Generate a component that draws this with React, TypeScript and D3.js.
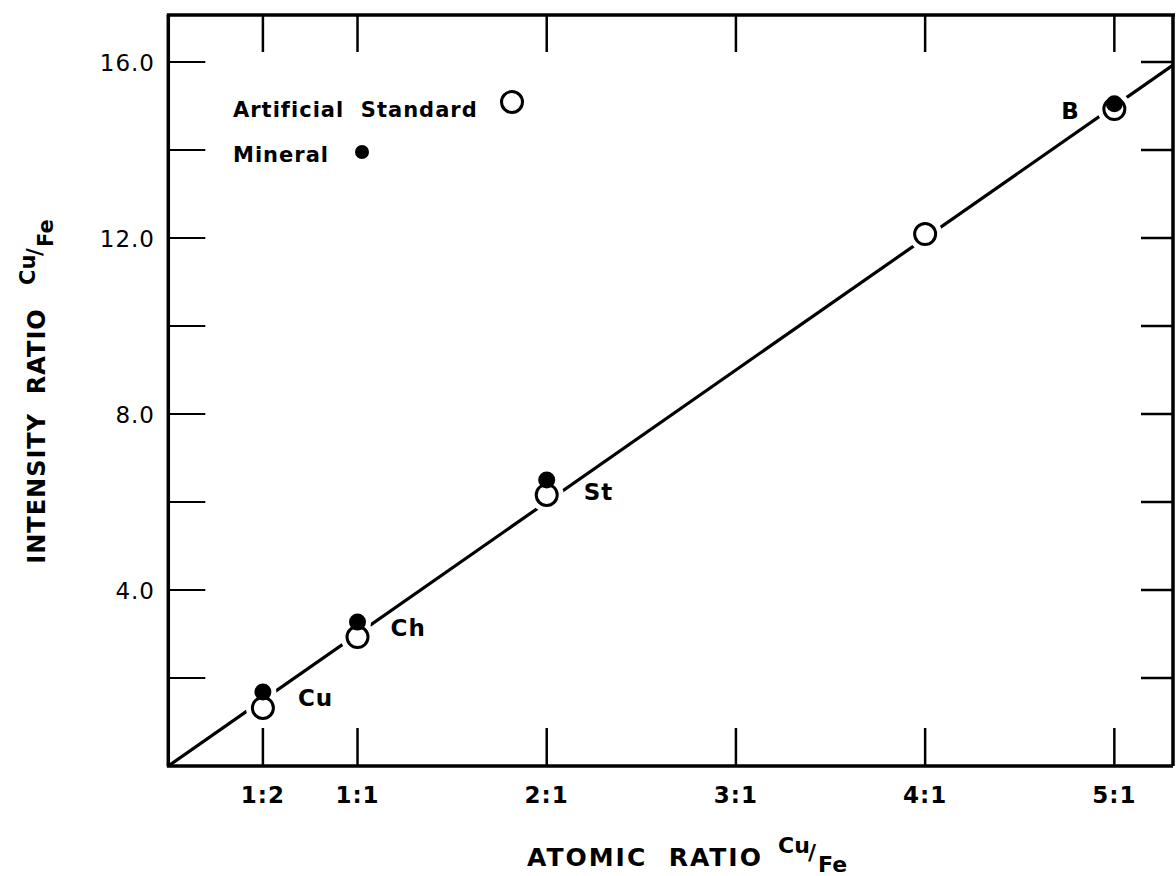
import React from 'react';
import * as d3 from 'd3';

// ---- data ----
const ratioValues = [0.5, 1, 2, 3, 4, 5];
const ratioLabels = ['1:2', '1:1', '2:1', '3:1', '4:1', '5:1'];
const yTickValues = [2, 4, 6, 8, 10, 12, 14, 16];
const yLabelValues = [4, 8, 12, 16];
const yLabelTexts = ['4.0', '8.0', '12.0', '16.0'];

const standardX = [0.5, 1, 2, 4, 5];
const standardY = [1.32, 2.93, 6.16, 12.09, 14.93];

const mineralX = [0.5, 1, 2, 5];
const mineralY = [1.68, 3.27, 6.5, 15.05];
const mineralNames = ['Cu', 'Ch', 'St', 'B'];

const fitX = [0, 5.31];
const fitY = [0, 15.93];

const legendNames = ['Artificial  Standard', 'Mineral'];

export default function App() {
  const W = 1176, H = 876;
  const left = 168.3, right = 1173, top = 15, bottom = 766;
  const x = d3.scaleLinear().domain([0, 5.31]).range([left, right]);
  const y = d3.scaleLinear().domain([0, 16]).range([bottom, 62]);
  const font = '"DejaVu Sans", sans-serif';
  const line = d3.line<number>().x((d, i) => x(fitX[i])).y((d, i) => y(fitY[i]));
  const openR = 12, dotR = 8.5;
  const labelOffsets: Record<string, [number, number]> = {
    Cu: [35, 14], Ch: [33, 14], St: [37, 20], B: [-53, 15],
  };
  return (
    <svg width={W} height={H} style={{ position: 'absolute', left: 0, top: 0, background: '#fff' }}>
      {/* fit line */}
      <path d={line(fitX) || ''} fill="none" stroke="#000" strokeWidth={3.2} />
      {/* halos */}
      {standardX.map((v, i) => (
        <circle key={'hs' + i} cx={x(v)} cy={y(standardY[i])} r={openR + 5} fill="#fff" />
      ))}
      {mineralX.map((v, i) => (
        <circle key={'hm' + i} cx={x(v)} cy={y(mineralY[i])} r={dotR + 5} fill="#fff" />
      ))}
      {standardX.map((v, i) => (
        <circle key={'s' + i} cx={x(v)} cy={y(standardY[i])} r={openR - 1.5} fill="#fff" stroke="#000" strokeWidth={3} />
      ))}
      {mineralX.map((v, i) => (
        <circle key={'m' + i} cx={x(v)} cy={y(mineralY[i])} r={dotR} fill="#000" />
      ))}
      {mineralNames.map((n, i) => (
        <text key={'ml' + i} x={x(mineralX[i]) + labelOffsets[n][0]} y={y(mineralY[i]) + labelOffsets[n][1]}
          fontFamily={font} fontSize={23} fontWeight={600} letterSpacing={1}>{n}</text>
      ))}

      {/* frame */}
      <line x1={left} y1={top} x2={left} y2={bottom} stroke="#000" strokeWidth={3.5} />
      <line x1={left - 1.5} y1={bottom} x2={right} y2={bottom} stroke="#000" strokeWidth={3.5} />
      <line x1={left - 1.5} y1={top} x2={right + 2} y2={top} stroke="#000" strokeWidth={3.5} />
      <line x1={right} y1={top} x2={right} y2={bottom} stroke="#000" strokeWidth={3.5} />

      {/* x ticks top & bottom */}
      {ratioValues.map((v, i) => (
        <g key={'xt' + i}>
          <line x1={x(v)} x2={x(v)} y1={top} y2={top + 37} stroke="#000" strokeWidth={2.5} />
          <line x1={x(v)} x2={x(v)} y1={bottom} y2={bottom - 38} stroke="#000" strokeWidth={2.5} />
          <text x={x(v)} y={803} textAnchor="middle" fontFamily={font} fontSize={23} fontWeight={700} letterSpacing={1}>
            {ratioLabels[i]}
          </text>
        </g>
      ))}
      {/* y ticks left & right */}
      {yTickValues.map((v, i) => (
        <g key={'yt' + i}>
          <line x1={left} x2={left + 37} y1={y(v)} y2={y(v)} stroke="#000" strokeWidth={2} />
          <line x1={right} x2={right - 32} y1={y(v)} y2={y(v)} stroke="#000" strokeWidth={2.5} />
        </g>
      ))}
      {yLabelValues.map((v, i) => (
        <text key={'yl' + i} x={155} y={y(v) + 9} textAnchor="end" fontFamily={font} fontSize={23} fontWeight={500} letterSpacing={1}>
          {yLabelTexts[i]}
        </text>
      ))}

      {/* legend */}
      <text x={233} y={117} fontFamily={font} fontSize={21} fontWeight={600} letterSpacing={1} xmlSpace="preserve">
        {legendNames[0]}
      </text>
      <circle cx={512} cy={102} r={10.5} fill="#fff" stroke="#000" strokeWidth={3} />
      <text x={233} y={162} fontFamily={font} fontSize={21} fontWeight={600} letterSpacing={1}>
        {legendNames[1]}
      </text>
      <circle cx={362} cy={152} r={7} fill="#000" />

      {/* x axis title */}
      <text x={527} y={866} fontFamily={font} fontSize={25} fontWeight={600} letterSpacing={2} xmlSpace="preserve">
        ATOMIC  RATIO
      </text>
      <text x={778} y={853} fontFamily={font} fontSize={22} fontWeight={600}>Cu</text>
      <text x={808} y={860} fontFamily={font} fontSize={22} fontWeight={600}>/</text>
      <text x={818} y={872} fontFamily={font} fontSize={22} fontWeight={600}>Fe</text>

      {/* y axis title */}
      <g transform="translate(45,436) rotate(-90)">
        <text x={0} y={0} textAnchor="middle" fontFamily={font} fontSize={24} fontWeight={600} letterSpacing={1} xmlSpace="preserve">
          INTENSITY  RATIO
        </text>
      </g>
      <g transform="translate(45,285) rotate(-90)">
        <text x={0} y={-10} fontFamily={font} fontSize={21} fontWeight={600}>Cu</text>
        <text x={29} y={-3} fontFamily={font} fontSize={21} fontWeight={600}>/</text>
        <text x={38} y={8} fontFamily={font} fontSize={21} fontWeight={600}>Fe</text>
      </g>
    </svg>
  );
}
